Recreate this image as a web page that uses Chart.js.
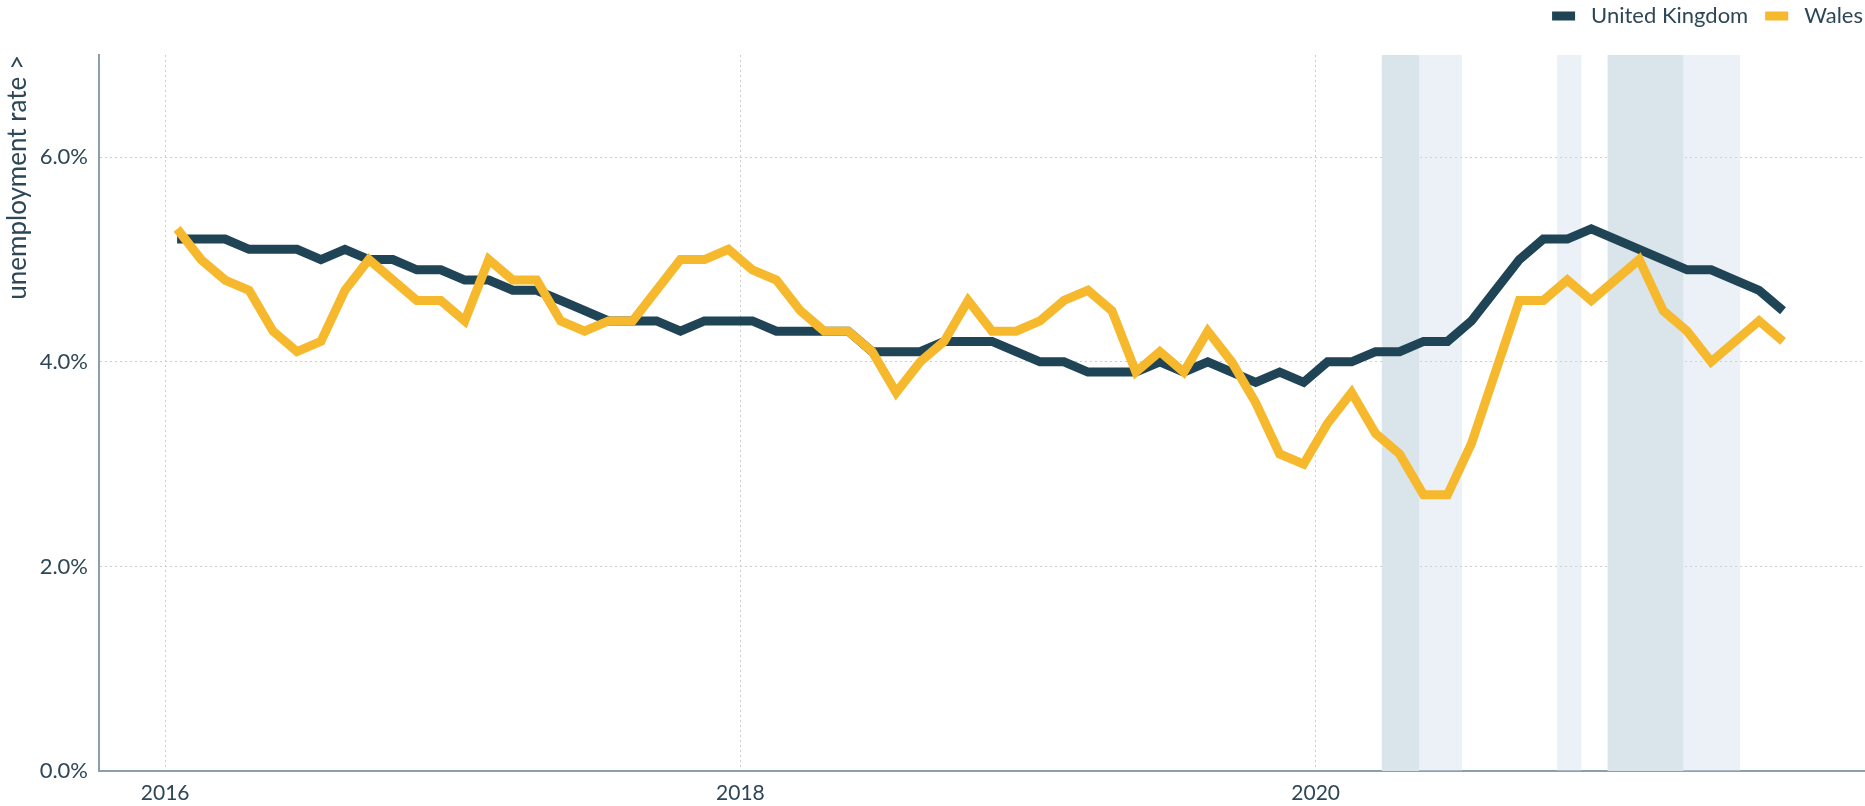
<!DOCTYPE html>
<html lang="en">
<head>
  <meta charset="UTF-8" />
  <title>Unemployment rate: United Kingdom and Wales</title>
  <script src="https://cdn.jsdelivr.net/npm/chart.js"></script>
  <style>
    html, body { margin: 0; padding: 0; background: #fff; }
    #wrap { width: 1865px; height: 806px; position: relative; }
  </style>
</head>
<body>
  <div id="wrap"><canvas id="chart"></canvas></div>

  <script>
    // monthly series, Jan 2016 .. Aug 2021 (each point sits mid-month)
    const firstYear = 2016;
    const ukRate = [
      5.2, 5.2, 5.2, 5.1, 5.1, 5.1, 5.0, 5.1, 5.0, 5.0, 4.9, 4.9,
      4.8, 4.8, 4.7, 4.7, 4.6, 4.5, 4.4, 4.4, 4.4, 4.3, 4.4, 4.4,
      4.4, 4.3, 4.3, 4.3, 4.3, 4.1, 4.1, 4.1, 4.2, 4.2, 4.2, 4.1,
      4.0, 4.0, 3.9, 3.9, 3.9, 4.0, 3.9, 4.0, 3.9, 3.8, 3.9, 3.8,
      4.0, 4.0, 4.1, 4.1, 4.2, 4.2, 4.4, 4.7, 5.0, 5.2, 5.2, 5.3,
      5.2, 5.1, 5.0, 4.9, 4.9, 4.8, 4.7, 4.5
    ];
    const walesRate = [
      5.3, 5.0, 4.8, 4.7, 4.3, 4.1, 4.2, 4.7, 5.0, 4.8, 4.6, 4.6,
      4.4, 5.0, 4.8, 4.8, 4.4, 4.3, 4.4, 4.4, 4.7, 5.0, 5.0, 5.1,
      4.9, 4.8, 4.5, 4.3, 4.3, 4.1, 3.7, 4.0, 4.2, 4.6, 4.3, 4.3,
      4.4, 4.6, 4.7, 4.5, 3.9, 4.1, 3.9, 4.3, 4.0, 3.6, 3.1, 3.0,
      3.4, 3.7, 3.3, 3.1, 2.7, 2.7, 3.2, 3.9, 4.6, 4.6, 4.8, 4.6,
      4.8, 5.0, 4.5, 4.3, 4.0, 4.2, 4.4, 4.2
    ];

    const yearTicks = [2016, 2018, 2020];
    const rateTicks = [0, 2, 4, 6];

    // lockdown periods as decimal years
    const bandStart = [2020.230, 2020.360, 2020.839, 2021.015, 2021.279];
    const bandEnd   = [2020.360, 2020.509, 2020.924, 2021.279, 2021.476];
    const bandTone  = ['strong', 'soft', 'soft', 'strong', 'soft'];

    const FONT = 'Lato';
    const TEXT = '#2e4757';

    const toPoints = arr => arr.map((v, i) => ({ x: firstYear + (i + 0.5) / 12, y: v }));

    const bandsPlugin = {
      id: 'bands',
      beforeDatasetsDraw(chart) {
        const { ctx, chartArea, scales } = chart;
        ctx.save();
        bandStart.forEach((s, i) => {
          const x1 = scales.x.getPixelForValue(s);
          const x2 = scales.x.getPixelForValue(bandEnd[i]);
          ctx.fillStyle = bandTone[i] === 'strong' ? '#d9e4eb' : 'rgba(205,220,232,0.4)';
          ctx.fillRect(x1, chartArea.top, x2 - x1, chartArea.bottom - chartArea.top);
        });
        ctx.restore();
      }
    };

    // small legend in the top right corner
    const legendPlugin = {
      id: 'cornerLegend',
      afterDraw(chart) {
        const { ctx } = chart;
        const sets = chart.data.datasets;
        ctx.save();
        ctx.font = `22px ${FONT}`;
        ctx.textBaseline = 'middle';
        let x = chart.width - 2;
        const y = 16;
        for (let i = sets.length - 1; i >= 0; i--) {
          const w = ctx.measureText(sets[i].label).width;
          const tx = x - w;
          ctx.fillStyle = TEXT;
          ctx.fillText(sets[i].label, tx, y);
          const bx = tx - 16 - 23;
          ctx.fillStyle = sets[i].borderColor;
          ctx.fillRect(bx, y - 4.5, 23, 9);
          x = bx - 17;
        }
        ctx.restore();
      }
    };

    new Chart(document.getElementById('chart'), {
      type: 'line',
      data: {
        datasets: [
          {
            label: 'United Kingdom',
            data: toPoints(ukRate),
            borderColor: '#1f4456',
            backgroundColor: '#1f4456',
            order: 1
          },
          {
            label: 'Wales',
            data: toPoints(walesRate),
            borderColor: '#f6b82c',
            backgroundColor: '#f6b82c',
            order: 0
          }
        ]
      },
      options: {
        responsive: true,
        maintainAspectRatio: false,
        animation: false,
        events: [],
        layout: { padding: { top: 55, right: 0, left: 0, bottom: 0 } },
        elements: {
          line: { borderWidth: 9, tension: 0, borderJoinStyle: 'miter', borderCapStyle: 'butt' },
          point: { radius: 0 }
        },
        plugins: {
          legend: { display: false },
          tooltip: { enabled: false }
        },
        scales: {
          x: {
            type: 'linear',
            min: 2015.77,
            max: 2021.91,
            afterBuildTicks: axis => { axis.ticks = yearTicks.map(v => ({ value: v })); },
            afterFit: axis => { axis.height = 35; },
            ticks: {
              callback: v => String(v),
              color: TEXT,
              font: { family: FONT, size: 21 },
              padding: 10,
              maxRotation: 0
            },
            grid: { color: '#cccccc', lineWidth: 1, drawTicks: false },
            border: { display: true, color: '#8e9fab', width: 2, dash: [2, 3] }
          },
          y: {
            min: 0,
            max: 7,
            afterBuildTicks: axis => { axis.ticks = rateTicks.map(v => ({ value: v })); },
            afterFit: axis => { axis.width = 99; },
            ticks: {
              callback: v => v.toFixed(1) + '%',
              color: TEXT,
              font: { family: FONT, size: 22 },
              padding: 11
            },
            grid: { color: '#cccccc', lineWidth: 1, drawTicks: false },
            border: { display: true, color: '#8e9fab', width: 2, dash: [2, 3] },
            title: {
              display: true,
              text: 'unemployment rate >',
              align: 'end',
              color: TEXT,
              font: { family: FONT, size: 26 },
              padding: { top: 2, bottom: 0 }
            }
          }
        }
      },
      plugins: [bandsPlugin, legendPlugin]
    });
  </script>
</body>
</html>
